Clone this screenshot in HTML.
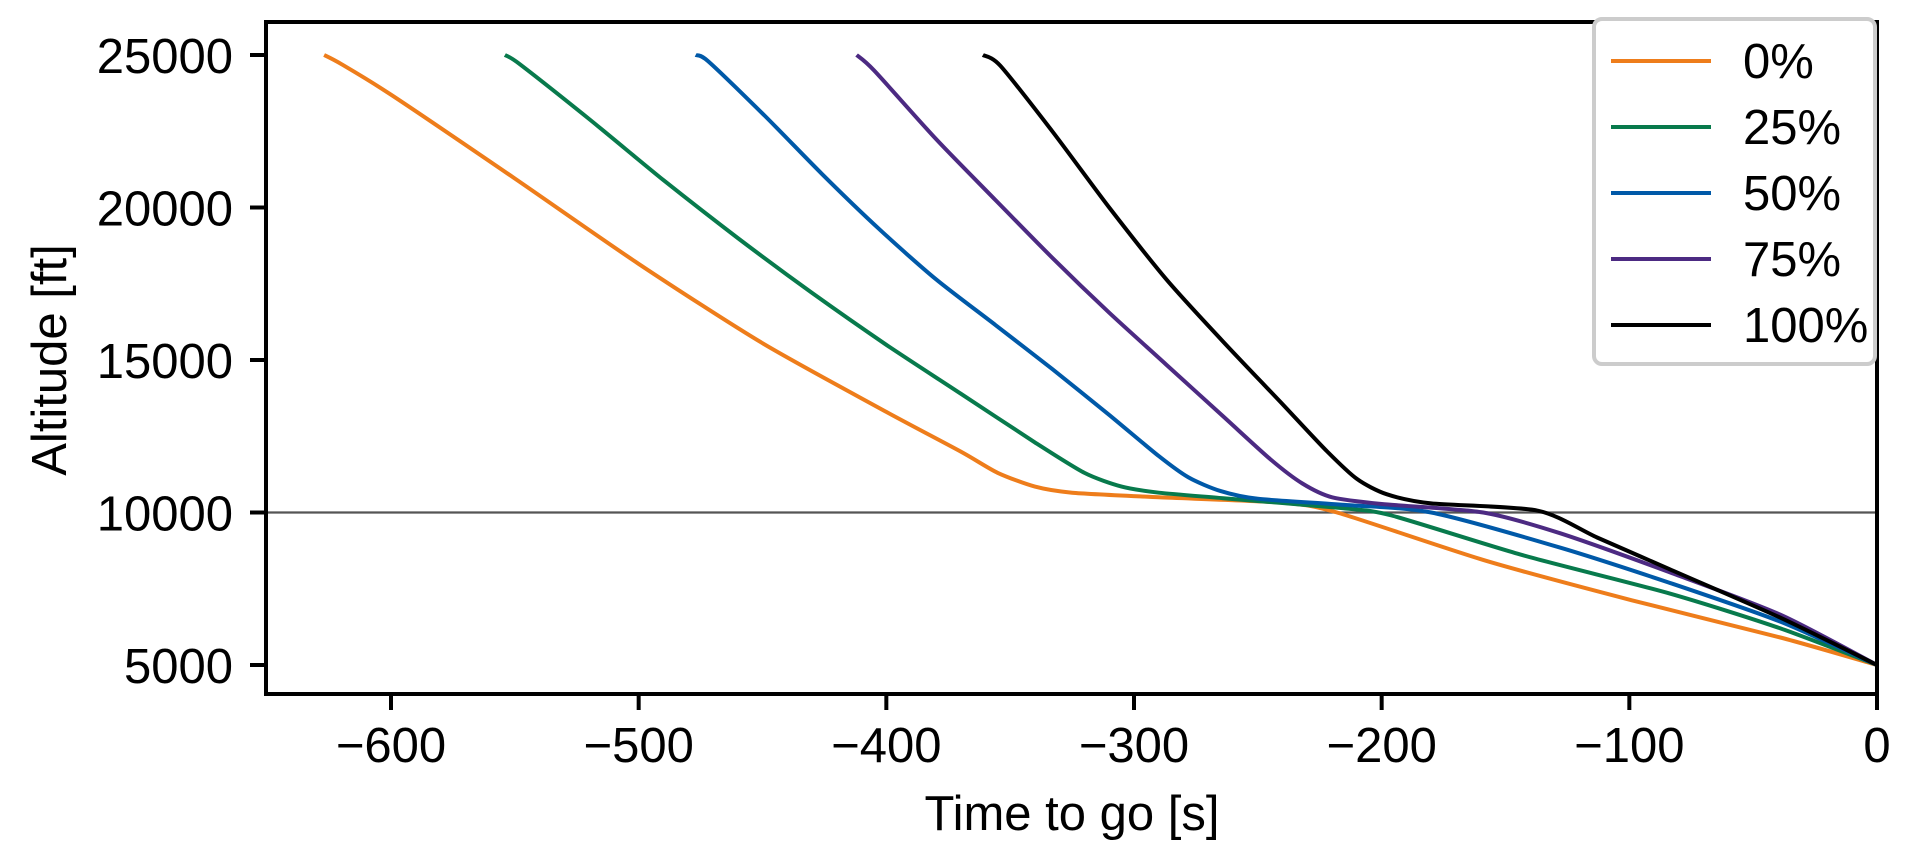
<!DOCTYPE html>
<html><head><meta charset="utf-8"><style>
html,body{margin:0;padding:0;background:#fff;width:1914px;height:864px;overflow:hidden}
svg text{font-family:"Liberation Sans",Arial,sans-serif;fill:#000}
</style></head><body>
<svg id="chart" width="1914" height="864" xmlns="http://www.w3.org/2000/svg"></svg>
<script>
const xTicks=[-600,-500,-400,-300,-200,-100,0];
const yTicks=[5000,10000,15000,20000,25000];
const seriesNames=["0%","25%","50%","75%","100%"];
const seriesColors=["#ee7d1b","#087a4c","#0059a8","#4c2a82","#000000"];
const tOrange=[-627,-620,-600,-550,-500,-450,-400,-370,-355,-340,-325,-290,-240,-218,-158,-99,-39,0];
const hOrange=[25000,24700,23700,20950,18150,15550,13300,12000,11300,10850,10650,10500,10320,10000,8420,7120,5900,5000];
const tGreen=[-554,-548,-520,-490,-460,-430,-400,-370,-340,-320,-305,-290,-264,-217,-196,-143,-84,-39,0];
const hGreen=[25000,24700,22900,20900,19000,17200,15500,13900,12300,11300,10850,10650,10470,10150,9900,8600,7350,6200,5000];
const tBlue=[-477,-472,-449,-426,-403,-380,-356,-333,-310,-290,-278,-265,-250,-215,-180,-128,-84,-39,0];
const hBlue=[25000,24800,23000,21100,19300,17650,16150,14700,13200,11850,11150,10700,10450,10250,10000,8850,7700,6420,5000];
const tPurple=[-412,-405,-380,-356,-333,-310,-287,-264,-245,-232,-220,-200,-159,-128,-84,-39,0];
const hPurple=[25000,24500,22250,20250,18350,16550,14850,13150,11750,10950,10500,10280,10000,9320,8050,6650,5000];
const tBlack=[-361,-354,-333,-310,-287,-264,-240,-222,-210,-198,-180,-137,-113,-84,-39,0];
const hBlack=[25000,24650,22500,20000,17650,15600,13550,12000,11100,10600,10300,10060,9180,8150,6550,5000];
const seriesT=[tOrange,tGreen,tBlue,tPurple,tBlack];
const seriesH=[hOrange,hGreen,hBlue,hPurple,hBlack];
const refAltitude=10000;

const L=266,R=1877,T=22,B=694;
const X=t=>1877+(t/600)*(1877-391);
const Y=h=>55+(25000-h)*(665-55)/20000;
const svg=document.getElementById('chart');
const NS="http://www.w3.org/2000/svg";
function mk(tag,attrs,parent){const e=document.createElementNS(NS,tag);for(const k in attrs)e.setAttribute(k,attrs[k]);(parent||svg).appendChild(e);return e;}

const ref=mk('line',{x1:L,x2:R,y1:Y(refAltitude),y2:Y(refAltitude),stroke:'#555',"stroke-width":2.2});



function smoothPath(pts){
  let d='M'+pts[0][0].toFixed(1)+' '+pts[0][1].toFixed(1);
  for(let i=0;i<pts.length-1;i++){
    const p0=pts[Math.max(0,i-1)],p1=pts[i],p2=pts[i+1],p3=pts[Math.min(pts.length-1,i+2)];
    const c1x=p1[0]+(p2[0]-p0[0])/8,c1y=p1[1]+(p2[1]-p0[1])/8;
    const c2x=p2[0]-(p3[0]-p1[0])/8,c2y=p2[1]-(p3[1]-p1[1])/8;
    d+=' C'+c1x.toFixed(1)+' '+c1y.toFixed(1)+' '+c2x.toFixed(1)+' '+c2y.toFixed(1)+' '+p2[0].toFixed(1)+' '+p2[1].toFixed(1);
  }
  return d;
}
seriesT.forEach((ts,i)=>{
  const pts=ts.map((t,j)=>[X(t),Y(seriesH[i][j])]);
  const p=mk('path',{d:smoothPath(pts),fill:'none',stroke:seriesColors[i],"stroke-width":4,"stroke-linejoin":"round"});
  
  
});

const frame=mk('rect',{x:L,y:T,width:R-L,height:B-T,fill:'none',stroke:'#000',"stroke-width":4});



xTicks.forEach(t=>{
  const tk=mk('line',{x1:X(t),x2:X(t),y1:B,y2:B+16,stroke:'#000',"stroke-width":4});
  
  
  const tx=mk('text',{x:X(t),y:762,"text-anchor":"middle","font-size":49});
  tx.textContent=(t<0?'\u2212'+(-t):String(t));
  
  
});
yTicks.forEach(h=>{
  const tk=mk('line',{x1:L-16,x2:L,y1:Y(h),y2:Y(h),stroke:'#000',"stroke-width":4});
  
  
  const tx=mk('text',{x:233,y:Y(h)+18,"text-anchor":"end","font-size":49});
  tx.textContent=String(h);
  
  
});
const xt=mk('text',{x:1072,y:830,"text-anchor":"middle","font-size":49});
xt.textContent='Time to go [s]';


const yt=mk('text',{x:0,y:0,"text-anchor":"middle","font-size":49,transform:'translate(66,360) rotate(-90)'});
yt.textContent='Altitude [ft]';



const lg=mk('g',{});


mk('rect',{x:1594,y:19,width:281,height:345,rx:8,fill:'#fff',stroke:'#cccccc',"stroke-width":4},lg);
seriesNames.forEach((n,i)=>{
  const y=61+i*66;
  const g=mk('g',{},lg);
  
  
  mk('line',{x1:1611,x2:1711,y1:y,y2:y,stroke:seriesColors[i],"stroke-width":4},g);
  const t=mk('text',{x:1743,y:y+17,"font-size":49},g);
  t.textContent=n;
});
</script>
</body></html>
